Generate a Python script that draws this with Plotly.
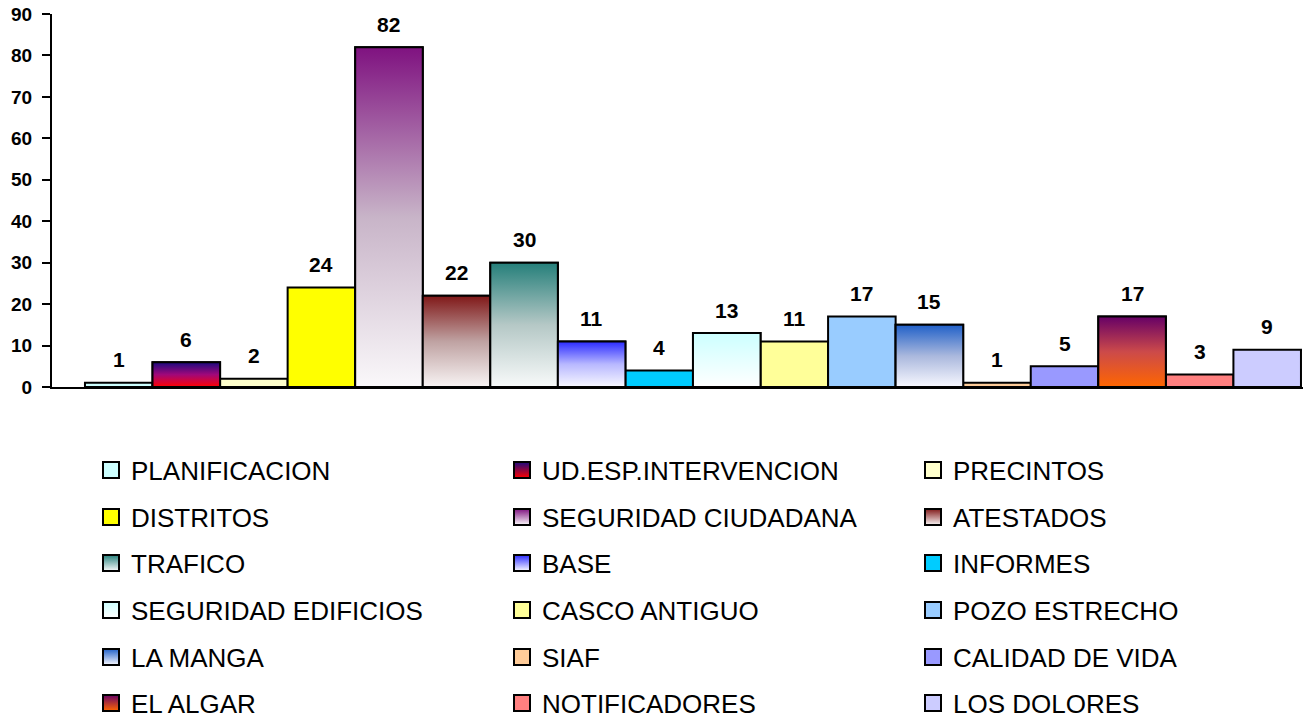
import plotly.graph_objects as go

categories = ["PLANIFICACION", "UD.ESP.INTERVENCION", "PRECINTOS",
              "DISTRITOS", "SEGURIDAD CIUDADANA", "ATESTADOS",
              "TRAFICO", "BASE", "INFORMES",
              "SEGURIDAD EDIFICIOS", "CASCO ANTIGUO", "POZO ESTRECHO",
              "LA MANGA", "SIAF", "CALIDAD DE VIDA",
              "EL ALGAR", "NOTIFICADORES", "LOS DOLORES"]
values = [1, 6, 2, 24, 82, 22, 30, 11, 4, 13, 11, 17, 15, 1, 5, 17, 3, 9]
top_colors = ["#CCFFFF", "#1A0A80", "#FFFFCC", "#FFFF00", "#7F1280", "#801818",
              "#257F7A", "#2A2AFF", "#00CCFF", "#CCFFFF", "#FFFF99", "#99CCFF",
              "#2060C8", "#FFCC99", "#9999FF", "#660066", "#FF8080", "#CCCCFF"]
mid_colors = ["#CCFFFF", "#A0087A", "#FFFFCC", "#FFFF00", "#C8B4C8", "#BFA2A2",
              "#B5C8C6", "#B8B8FF", "#00CCFF", "#E6FFFF", "#FFFF99", "#99CCFF",
              "#AAB8DD", "#FFCC99", "#9999FF", "#CC4A4A", "#FF8080", "#CCCCFF"]
bottom_colors = ["#CCFFFF", "#FF0000", "#FFFFCC", "#FFFF00", "#FAF8FA", "#F8F4F4",
                 "#F8FAFA", "#F8F8FF", "#00CCFF", "#FFFFFF", "#FFFF99", "#99CCFF",
                 "#F8F8FF", "#FFCC99", "#9999FF", "#FF6600", "#FF8080", "#CCCCFF"]
y_ticks = [0, 10, 20, 30, 40, 50, 60, 70, 80, 90]

W, H = 1310, 719
FONT = "Liberation Sans, Arial, Helvetica, sans-serif"
legend_keys = ["legend", "legend2", "legend3", "legend4", "legend5", "legend6"]
row_centers = [470, 517, 563, 610, 657, 703]

fig = go.Figure()
# bars
for i, (cat, v, tc) in enumerate(zip(categories, values, top_colors)):
    fig.add_trace(go.Bar(
        x=[i], y=[v], width=[1], name=cat,
        marker=dict(color=tc, line=dict(color="black", width=2)),
        showlegend=False, hoverinfo="name+y",
    ))
# vertical gradient fills for the shaded bars
for i, (v, tc, mc, bc) in enumerate(zip(values, top_colors, mid_colors, bottom_colors)):
    if tc != bc:
        fig.add_trace(go.Scatter(
            x=[i - 0.5, i - 0.5, i + 0.5, i + 0.5, i - 0.5],
            y=[0, v, v, 0, 0],
            mode="lines", fill="toself",
            fillgradient=dict(type="vertical",
                              colorscale=[[0, bc], [0.5, mc], [1, tc]]),
            line=dict(color="black", width=2),
            showlegend=False, hoverinfo="skip",
        ))
# legend entries (square swatches)
for i, (cat, tc, bc) in enumerate(zip(categories, top_colors, bottom_colors)):
    fig.add_trace(go.Scatter(
        x=[None], y=[None], mode="markers", name=cat,
        marker=dict(symbol="square", size=16, color=tc,
                    gradient=dict(type="vertical", color=bc) if tc != bc else None,
                    line=dict(color="black", width=2)),
        legend=legend_keys[i // 3], showlegend=True,
    ))

for i, v in enumerate(values):
    fig.add_annotation(x=i, y=v, text=str(v), showarrow=False,
                       yanchor="middle", yshift=23,
                       font=dict(family=FONT, size=21, color="black", weight="bold"))

layout_legends = {}
for r, key in enumerate(legend_keys):
    layout_legends[key] = dict(
        orientation="h", xref="container", yref="container",
        x=91 / W, y=1 - row_centers[r] / H,
        xanchor="left", yanchor="middle",
        entrywidth=366, entrywidthmode="pixels",
        font=dict(family=FONT, size=26, color="black"),
        bgcolor="rgba(0,0,0,0)", traceorder="normal",
        itemsizing="trace",
    )

fig.update_layout(
    width=W, height=H,
    margin=dict(l=52, r=7, t=14, b=332, autoexpand=False),
    paper_bgcolor="white", plot_bgcolor="white",
    barmode="overlay",
    showlegend=True,
    xaxis=dict(range=[-0.988, 17.53], showticklabels=False, ticks="",
               showgrid=False, zeroline=False, showline=True,
               linecolor="black", linewidth=2, automargin=False),
    yaxis=dict(range=[0, 90], tickvals=y_ticks, ticks="outside", ticklen=8,
               tickwidth=2, tickcolor="black", showgrid=False, zeroline=False,
               showline=True, linecolor="black", linewidth=2, automargin=False,
               ticklabelstandoff=6, ticklabeloverflow="allow",
               tickfont=dict(family=FONT, size=19, color="black", weight="bold")),
    **layout_legends,
)

fig.write_html("out.html", config={"displayModeBar": False},
               post_script="document.body.style.margin='0';document.body.style.overflow='hidden';")
